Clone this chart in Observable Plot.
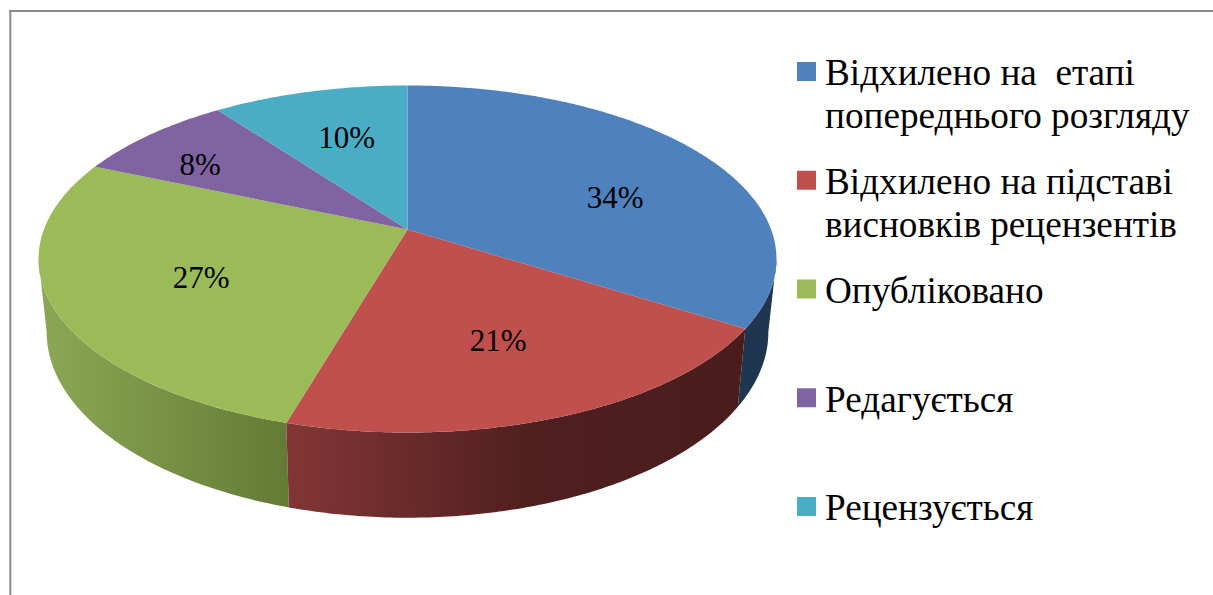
<!DOCTYPE html>
<html><head><meta charset="utf-8">
<style>html,body{margin:0;padding:0;background:#fff}svg{display:block}</style>
<script src="https://cdn.jsdelivr.net/npm/d3@7"></script>
<script src="https://cdn.jsdelivr.net/npm/@observablehq/plot@0.6"></script>
</head><body><script>
const categories = ["Відхилено на \u00A0етапі\nпопереднього розгляду","Відхилено на підставі\nвисновків рецензентів","Опубліковано","Редагується","Рецензується"];
const values = [34, 20.5, 27, 8.4, 10.1];
const colors = ["#4f81bd","#c0504d","#9bbb59","#8064a2","#4bacc6"];

// Layout of the perspective disc (pixel-like units of the x and y scales)
const P = {cx:407, cy:229, a:363.6, b:168.5, k:0.17, sx:0.978, sy:1.07, drop:71};
const labelNudge = [[0,0],[7,0],[8,-12],[-22,-19],[13,-13]];
const TAU = 2*Math.PI;
const proj = (t,r=1,bottom=false)=>{
  const u=r*Math.sin(t), v=r*Math.cos(t), w=1+P.k*v;
  const X=P.a*u/w, Y=-P.b*v/w;
  return bottom ? {x:P.cx+P.sx*X, y:P.cy+P.sy*Y+P.drop} : {x:P.cx+X, y:P.cy+Y};
};
const arc=(t0,t1,bottom)=>{const n=Math.max(2,Math.ceil(Math.abs(t1-t0)*90));
  return d3.range(n+1).map(i=>proj(t0+(t1-t0)*i/n,1,bottom));};
const total=d3.sum(values);
let acc=0;
const slices=values.map((v,i)=>{const t0=acc/total*TAU; acc+=v; const t1=acc/total*TAU;
  return {i,name:categories[i],value:v,t0,t1,mid:(t0+t1)/2,color:colors[i]};});
const faces=slices.map(s=>[{x:P.cx,y:P.cy},...arc(s.t0,s.t1,false)]);
const tR=Math.acos(-P.k), tL=TAU-tR;
const wall=(t0,t1)=>[...arc(t0,t1,false),...arc(t1,t0,true)];
const wallBlue=wall(tR,slices[0].t1), wallRed=wall(slices[1].t0,slices[1].t1), wallGreen=wall(slices[2].t0,tL);

const gradients=()=>{
  const defs=d3.create("svg:defs");
  const add=(id,stops)=>{const g=defs.append("linearGradient").attr("id",id);
    stops.forEach(([o,c])=>g.append("stop").attr("offset",o).attr("stop-color",c));};
  add("wallRedG",[[0,"#823635"],[0.55,"#4e1f1e"],[1,"#4a1d1c"]]);
  add("wallGreenG",[[0,"#8ca855"],[1,"#647a36"]]);
  return defs.node();
};
const poly=(pts,fill)=>Plot.line(pts,{x:"x",y:"y",fill,stroke:"none"});
const FS=37.2, LH=43;
const legendY=i=>71.2+108.75*i;
const legend=slices.map(s=>({...s,yc:legendY(s.i),lines:s.name.split("\n").length}));

const chart=Plot.plot({
  width:1213,height:595,margin:0,
  x:{domain:[0,1213],range:[0,1213],axis:null},
  y:{domain:[0,595],range:[0,595],axis:null},
  style:{background:"#fff"},
  marks:[
    gradients,
    Plot.ruleX([9.8],{y1:10,y2:595,stroke:"#8c8c8c",strokeWidth:2}),
    Plot.ruleY([10.5],{x1:9,x2:1213,stroke:"#8c8c8c",strokeWidth:2}),
    poly(wallBlue,"#1e364f"),
    poly(wallGreen,"url(#wallGreenG)"),
    poly(wallRed,"url(#wallRedG)"),
    ...faces.map((f,i)=>poly(f,colors[i])),
    Plot.text(slices,{
      x:s=>407+237*Math.sin(s.mid)+labelNudge[s.i][0],
      y:s=>246.6-100.8*Math.cos(s.mid)+labelNudge[s.i][1],
      text:s=>Math.round(s.value)+"%",fontFamily:"Liberation Serif",fontSize:31,fill:"#000"}),
    Plot.rect(legend,{x1:()=>797,x2:()=>816,y1:s=>s.yc-9.2,y2:s=>s.yc+9.8,fill:"color"}),
    Plot.text(legend,{x:()=>824.5,y:s=>s.yc+(s.lines-1)*LH/2,text:"name",textAnchor:"start",lineHeight:LH/FS,
      fontFamily:"Liberation Serif",fontSize:FS,fill:"#000"})
  ]
});
document.body.append(chart);
</script></body></html>
